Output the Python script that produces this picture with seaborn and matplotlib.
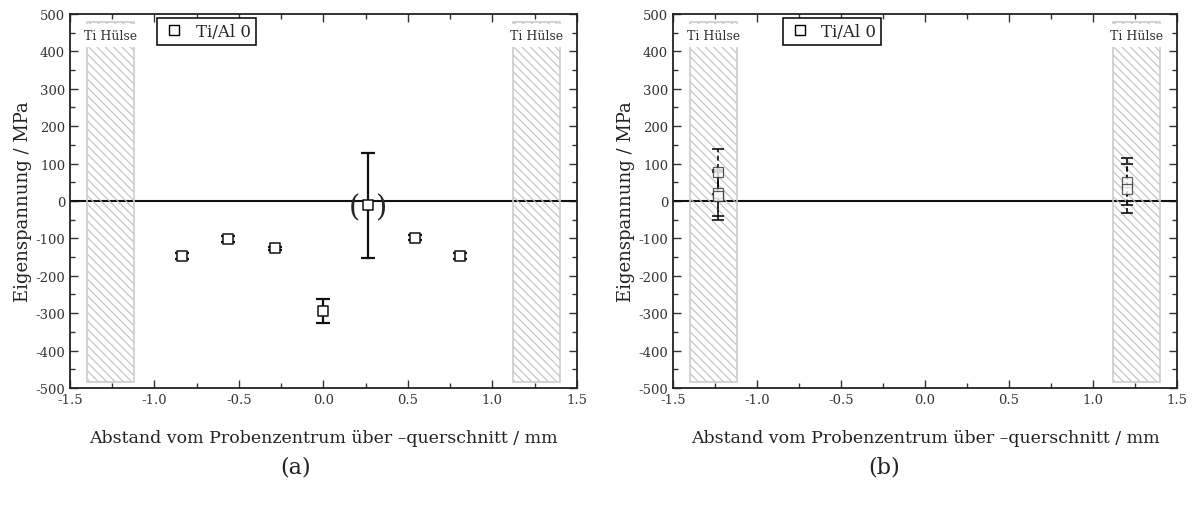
import matplotlib
matplotlib.use("Agg")
import matplotlib.pyplot as plt
import seaborn as sns
import pandas as pd
from matplotlib.ticker import MultipleLocator
from matplotlib.patches import Rectangle
from matplotlib.lines import Line2D

# ---- data ----
x_a = [-0.84, -0.565, -0.285, 0.0, 0.265, 0.54, 0.81]
y_a = [-148, -101, -127, -293, -12, -98, -148]
err_a = [8, 8, 4, 32, 140, 7, 8]

x_b_left = [-1.23, -1.23, -1.23]
y_b_left = [78, 22, 14]
err_b_left = [60, 62, 64]

x_b_right = [1.2, 1.2]
y_b_right = [52, 33]
err_b_right = [62, 65]

sleeve_x = [(-1.40, -1.12), (1.12, 1.40)]
sleeve_y = (-485, 478)
series_label = "Ti/Al 0"
sleeve_label = "Ti Hülse"
xlabel = "Abstand vom Probenzentrum über –querschnitt / mm"
ylabel = "Eigenspannung / MPa"
captions = ["(a)", "(b)"]

sns.set_style("ticks")
plt.rcParams["font.family"] = ["DejaVu Serif"]
plt.rcParams["hatch.linewidth"] = 0.8

fig = plt.figure(figsize=(11.92, 5.10), dpi=100)
ax_a = fig.add_axes([0.0587, 0.2373, 0.4253, 0.7333])
ax_b = fig.add_axes([0.5646, 0.2373, 0.4228, 0.7333])


def style_axes(ax):
    ax.set_xlim(-1.5, 1.5)
    ax.set_ylim(-500, 500)
    ax.xaxis.set_major_locator(MultipleLocator(0.5))
    ax.xaxis.set_minor_locator(MultipleLocator(0.25))
    ax.yaxis.set_major_locator(MultipleLocator(100))
    ax.yaxis.set_minor_locator(MultipleLocator(50))
    ax.tick_params(which="both", direction="in", top=True, right=True,
                   labelsize=9.5, colors="#333333", width=1.0)
    ax.tick_params(which="major", length=6)
    ax.tick_params(which="minor", length=3.5)
    for s in ax.spines.values():
        s.set_linewidth(1.3)
        s.set_color("#222222")
    ax.xaxis.set_major_formatter(matplotlib.ticker.FuncFormatter(lambda v, p: f"{v:.1f}"))
    ax.yaxis.set_major_formatter(matplotlib.ticker.FuncFormatter(lambda v, p: f"{int(v)}"))
    ax.axhline(0, color="#111111", lw=1.5, zorder=1)
    for (x0, x1) in sleeve_x:
        w = x1 - x0
        hgt = sleeve_y[1] - sleeve_y[0]
        ax.add_patch(Rectangle((x0, sleeve_y[0]), w, hgt, facecolor="none",
                               edgecolor="#c0c0c0", hatch="\\\\\\\\", lw=0, zorder=2))
        ax.add_patch(Rectangle((x0, sleeve_y[0]), w, hgt, facecolor="none",
                               edgecolor="#cccccc", lw=1.2, zorder=2))
        ax.text((x0 + x1) / 2, 443, sleeve_label, ha="center", va="center",
                fontsize=9, color="#333333", zorder=3,
                bbox=dict(facecolor="white", edgecolor="none", pad=3.5))
    leg_handle = Line2D([], [], marker="s", ls="none", markerfacecolor="white",
                        markeredgecolor="black", markersize=7, markeredgewidth=1.0)
    return leg_handle


def finish(ax, h, anchor_x):
    ax.set_xlabel(xlabel, fontsize=12.5, labelpad=17, color="#222222")
    ax.set_ylabel(ylabel, fontsize=13, labelpad=2, color="#222222")
    leg = ax.legend([h], [series_label], loc="upper left", bbox_to_anchor=(anchor_x, 0.989),
                    borderaxespad=0, fancybox=False, edgecolor="black", framealpha=1,
                    fontsize=12, handletextpad=0.6, handlelength=1.4, borderpad=0.3)
    leg.get_frame().set_linewidth(1.1)


# ---- panel (a) ----
h = style_axes(ax_a)
ax_a.errorbar(x_a, y_a, yerr=err_a, fmt="none", ecolor="#111111", elinewidth=1.6,
              capsize=5, capthick=1.6, zorder=4)
df_a = pd.DataFrame({"x": x_a, "y": y_a})
sns.scatterplot(data=df_a, x="x", y="y", marker="s", s=60, facecolor="white",
                edgecolor="#111111", linewidth=1.1, ax=ax_a, zorder=5)
ax_a.text(0.186, -18, "(", fontsize=21, ha="center", va="center", zorder=6)
ax_a.text(0.345, -18, ")", fontsize=21, ha="center", va="center", zorder=6)
finish(ax_a, h, 0.172)

# ---- panel (b) ----
h = style_axes(ax_b)
for xs, ys, es in [(x_b_left, y_b_left, err_b_left), (x_b_right, y_b_right, err_b_right)]:
    eb = ax_b.errorbar(xs, ys, yerr=es, fmt="none", ecolor="#111111", elinewidth=1.2,
                       capsize=4, capthick=1.2, zorder=4)
    for lc in eb[2]:
        lc.set_linestyle((0, (3, 2)))
    df_b = pd.DataFrame({"x": xs, "y": ys})
    sns.lineplot(data=df_b, x="x", y="y", color="#111111", lw=1.2, ls="--",
                 ax=ax_b, zorder=4, estimator=None, sort=False)
    ax_b.plot(xs, ys, ls="none", marker="s", markersize=7, markerfacecolor="white",
              markeredgecolor="#333333", markeredgewidth=0.9, zorder=5, alpha=0.8)
finish(ax_b, h, 0.218)

fig.text(0.248, 0.084, captions[0], fontsize=16, ha="center", va="center", color="#222222")
fig.text(0.742, 0.084, captions[1], fontsize=16, ha="center", va="center", color="#222222")

fig.savefig("out.png", dpi=100)
